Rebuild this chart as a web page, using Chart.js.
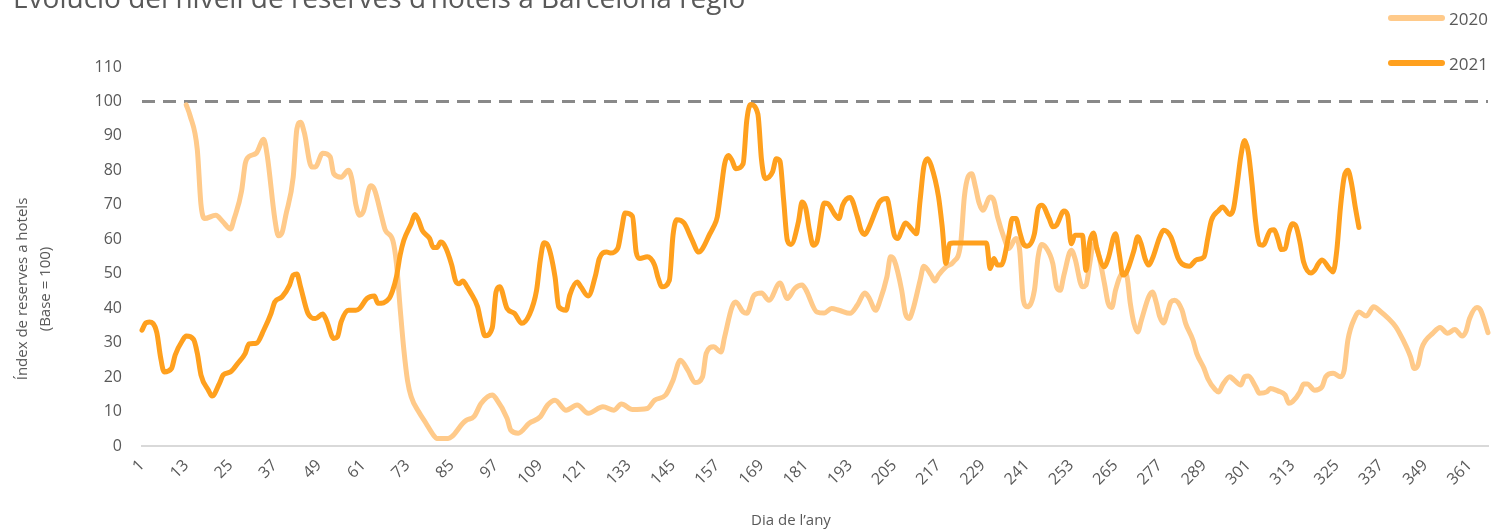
<!DOCTYPE html>
<html>
<head>
<meta charset="utf-8">
<title>Evolució del nivell de reserves d’hotels a Barcelona regió</title>
<script src="https://cdn.jsdelivr.net/npm/chart.js@4"></script>
<style>
  body { margin: 0; background: #fff; }
  #wrap { position: relative; width: 1498px; height: 530px; overflow: hidden;
          font-family: 'Open Sans', sans-serif; color: #595959; }
  #chart { position: absolute; left: 0; top: 0; }
  #title { position: absolute; left: 13px; top: -20px; font-size: 28px; line-height: 34px; white-space: nowrap; }
  #ytitle { position: absolute; left: -117px; top: 266px; width: 300px; text-align: center;
            font-size: 15px; line-height: 23px; transform: rotate(-90deg); }
  #xtitle { position: absolute; left: 691px; top: 509px; width: 200px; text-align: center;
            font-size: 15px; line-height: 20px; }
  .legend-item { position: absolute; left: 1388px; height: 24px; display: flex; align-items: center; }
  .legend-item span.swatch { display: inline-block; width: 57px; height: 6px; border-radius: 3px; margin-right: 4px; }
  .legend-item span.text { font-size: 17px; }
</style>
</head>
<body>
<div id="wrap">
  <canvas id="chart" width="1498" height="530"></canvas>
  <div id="title">Evolució del nivell de reserves d’hotels a Barcelona regió</div>
  <div id="ytitle">Índex de reserves a hotels<br>(Base = 100)</div>
  <div id="xtitle">Dia de l’any</div>
  <div id="legend"></div>
</div>
<script>
// Day-of-year labels shown on the x axis
const tickDays = [1, 13, 25, 37, 49, 61, 73, 85, 97, 109, 121, 133, 145, 157, 169, 181,
  193, 205, 217, 229, 241, 253, 265, 277, 289, 301, 313, 325, 337, 349, 361];
const lastDay = 366;
const baseLevel = 100;

const seriesLabels = ['2020', '2021'];

// 2020 index (day of year / value)
const days2020 = [13, 14, 16, 17, 18, 21, 23, 25, 26, 28, 29, 30, 32, 34, 35, 37, 38, 39, 40, 42,
  43, 44, 45, 47, 48, 50, 52, 53, 55, 57, 58, 59, 60, 61, 63, 64, 66, 67, 69, 70,
  71, 72, 73, 74, 76, 78, 80, 81, 84, 85, 88, 89, 91, 93, 96, 97, 100, 101, 103, 106,
  109, 111, 113, 116, 119, 122, 126, 129, 131, 134, 138, 140, 143, 145, 147, 149, 151, 153, 154, 156,
  158, 159, 161, 162, 164, 165, 167, 169, 171, 174, 176, 178, 180, 181, 184, 186, 188, 190, 193, 195,
  197, 198, 200, 201, 203, 204, 205, 207, 208, 209, 210, 212, 213, 215, 216, 217, 219, 221, 223, 224,
  225, 226, 227, 228, 229, 231, 232, 233, 235, 236, 238, 239, 240, 241, 243, 244, 245, 246, 248, 249,
  250, 251, 253, 254, 256, 257, 258, 259, 260, 262, 263, 264, 265, 267, 268, 269, 270, 271, 272, 274,
  275, 276, 277, 278, 279, 280, 281, 283, 284, 286, 287, 289, 290, 292, 293, 294, 296, 297, 299, 300,
  301, 303, 304, 306, 307, 309, 311, 312, 313, 315, 316, 317, 319, 321, 322, 324, 326, 327, 328, 330,
  331, 333, 335, 337, 339, 341, 343, 345, 346, 347, 348, 349, 351, 353, 355, 357, 359, 360, 361, 363,
  364, 366];
const index2020 = [99, 96, 86, 70, 66, 67, 65, 63, 66, 74, 82, 84, 85, 89, 84, 66, 61, 62, 67, 78,
  92, 94, 91, 81, 81, 85, 84, 79, 78, 80, 77, 70, 67, 68, 75.5, 74.5, 66.5, 62.6, 59.7, 53,
  40, 28, 19, 14.3, 10, 6.6, 3.2, 2.2, 2.2, 2.7, 6.6, 7.5, 8.5, 12.4, 14.8, 13.8, 8, 4.6, 3.7, 6.6,
  8.5, 11.9, 13.3, 10.4, 11.9, 9.5, 11.4, 10.4, 12.2, 10.6, 10.9, 13.3, 14.8, 19.1, 24.9, 22, 18.4, 20.1, 26.9, 28.8,
  27.3, 31.7, 40.4, 41.8, 38.9, 38.5, 43.8, 44.4, 42.3, 47.3, 42.8, 45.7, 46.7, 45.4, 38.9, 38.6, 39.9, 39.4, 38.5, 40.9,
  44.4, 43.3, 39.4, 41.8, 49.1, 54.9, 53.9, 45.2, 38.5, 37, 39.4, 48.1, 52.2, 49.6, 47.9, 49.6, 52, 53.4, 58.7, 72.3,
  78.1, 79, 75.2, 70.5, 68.4, 72.3, 71.3, 66.5, 59.7, 57.3, 60.2, 56.8, 42.3, 40.4, 45.2, 54.9, 58.5, 57.8, 52.9, 46.2,
  45.2, 49.6, 56.8, 54.4, 46.2, 46.7, 52.9, 58.5, 57.3, 47.1, 41.4, 40.2, 45.2, 50.2, 49.6, 41.4, 35.6, 33.1, 36.5, 43.3,
  44.7, 41.8, 37.5, 35.7, 38.5, 41.8, 42.3, 39.5, 35.6, 30.7, 26.9, 22.5, 19.6, 16.4, 15.7, 17.7, 20.1, 19.3, 17.7, 20.1,
  20.3, 17.2, 15.3, 15.7, 16.7, 16, 14.8, 12.4, 12.9, 15.7, 18, 18, 16.2, 17.2, 20.1, 21.1, 20.1, 22, 30.7, 37.5,
  38.9, 37.7, 40.4, 38.9, 37, 34.6, 30.7, 25.9, 22.5, 23.5, 28.3, 30.5, 32.7, 34.4, 32.7, 33.8, 31.9, 33.2, 37, 40.2,
  39.4, 32.9];

// 2021 index (day of year / value)
const days2021 = [1, 2, 3, 5, 6, 7, 9, 10, 12, 13, 15, 16, 17, 19, 20, 22, 23, 25, 27, 29,
  30, 32, 34, 36, 37, 39, 41, 42, 43, 44, 46, 48, 50, 51, 53, 54, 55, 57, 59, 60,
  62, 64, 65, 68, 69, 70, 71, 72, 74, 75, 76, 77, 79, 80, 81, 82, 83, 85, 86, 87,
  88, 89, 90, 92, 93, 94, 96, 97, 98, 100, 102, 104, 106, 108, 109, 110, 111, 113, 114, 116,
  117, 119, 120, 122, 124, 125, 127, 128, 130, 131, 132, 134, 135, 136, 138, 140, 141, 142, 144, 145,
  146, 148, 150, 152, 153, 155, 156, 157, 158, 159, 160, 161, 162, 164, 165, 166, 168, 169, 170, 172,
  173, 174, 175, 176, 177, 179, 180, 181, 182, 183, 184, 186, 187, 189, 190, 191, 193, 195, 196, 197,
  198, 200, 201, 203, 204, 205, 206, 207, 208, 210, 211, 212, 213, 214, 215, 217, 218, 219, 220, 221,
  230, 231, 232, 233, 234, 236, 237, 238, 239, 240, 241, 243, 244, 245, 247, 248, 249, 251, 252, 253,
  254, 256, 257, 258, 259, 260, 262, 263, 265, 266, 267, 268, 270, 271, 272, 273, 274, 275, 277, 278,
  280, 282, 283, 285, 287, 289, 290, 291, 293, 294, 296, 297, 298, 299, 300, 301, 302, 303, 304, 305,
  307, 308, 309, 310, 311, 312, 313, 314, 315, 316, 318, 319, 320, 321, 323, 324, 325, 326, 327, 328,
  329, 330, 331];
const index2021 = [33.6, 35.7, 36, 33, 26, 21.5, 22.5, 26.4, 30.7, 31.9, 30.9, 26.9, 20.6, 16.2, 14.5, 18.2, 20.6, 21.5, 24, 26.9,
  29.6, 29.8, 33.6, 38.5, 41.8, 43.3, 46.7, 49.6, 49.9, 46.2, 38.5, 37, 38.3, 36.5, 31.2, 31.7, 36, 39.4, 39.4, 39.9,
  42.8, 43.5, 41.4, 42.8, 45.2, 49.1, 55.4, 59.7, 64.5, 67.2, 65.5, 62.6, 60.2, 57.6, 57.6, 59.2, 58.3, 52.5, 48, 47.1,
  47.9, 46.5, 44.7, 40.4, 35.6, 32, 34.4, 44.7, 46.2, 39.9, 38.5, 35.6, 38, 45.2, 53.9, 59, 58.3, 49.1, 40.4, 39.4,
  43.8, 47.6, 46.2, 43.5, 49.6, 54.4, 56.3, 56, 57.3, 62.6, 67.6, 66.7, 56.3, 54.4, 54.9, 52.5, 48.6, 46.2, 48.1, 61.2,
  65.7, 64.7, 60.2, 56.3, 57.3, 61.6, 63.6, 66.5, 74.2, 81.9, 84.3, 82.9, 80.5, 81.9, 94.5, 99.1, 96.4, 83, 77.6, 79.6,
  83.4, 82.7, 71.3, 59.7, 58.5, 65, 70.8, 69, 62.6, 58.3, 59.2, 70.5, 70.3, 67, 66, 69.9, 72.1, 66.5, 62.6, 61.4,
  63.1, 68.4, 70.8, 71.8, 67, 61.2, 60.2, 62.6, 64.7, 62.6, 61.6, 71.3, 81, 83.4, 81.4, 72.3, 63.6, 53, 58.7, 58.9,
  58.9, 51.5, 54.4, 52.5, 52.5, 60.7, 66, 66, 62.1, 58.7, 58, 61.6, 68.9, 69.9, 66, 63.6, 64.1, 68.2, 67, 58.7,
  61.2, 61.2, 51, 59.2, 61.8, 57, 52, 54.4, 61.6, 55.8, 49.6, 50.5, 56.8, 60.7, 58.5, 54.4, 52.5, 54.4, 60.7, 62.6,
  60.7, 54.4, 52.9, 52.2, 54.1, 54.9, 60.2, 65.5, 68.4, 69.4, 67.2, 68.9, 76.1, 84.3, 88.7, 85.3, 76.1, 65, 58.5, 58.3,
  62.6, 62.8, 60.2, 57, 57.3, 62.1, 64.5, 63.6, 59.2, 53.4, 50.2, 51, 52.9, 54, 51.5, 50.5, 56.8, 69.4, 78.1, 80,
  76.1, 69.4, 63.4];

const textColor = '#595959';
const fontFamily = "'Open Sans', sans-serif";
const colors = { '2020': '#ffca8a', '2021': '#ffa01e' };

function toPoints(days, values) {
  return days.map((d, i) => ({ x: d, y: values[i] }));
}

// Build the legend (stacked, top right)
function buildLegend() {
  const legend = document.getElementById('legend');
  seriesLabels.forEach((label, i) => {
    const item = document.createElement('div');
    item.className = 'legend-item';
    item.style.top = (6 + i * 45) + 'px';
    item.innerHTML = '<span class="swatch" style="background:' + colors[label] + '"></span>' +
      '<span class="text">' + label + '</span>';
    legend.appendChild(item);
  });
}

function createChart() {
  const ctx = document.getElementById('chart').getContext('2d');
  new Chart(ctx, {
    type: 'line',
    data: {
      datasets: [
        {
          label: '2021',
          data: toPoints(days2021, index2021),
          borderColor: colors['2021'],
          borderWidth: 5,
          order: 1
        },
        {
          label: '2020',
          data: toPoints(days2020, index2020),
          borderColor: colors['2020'],
          borderWidth: 5,
          order: 2
        },
        {
          label: 'Base',
          data: [{ x: tickDays[0], y: baseLevel }, { x: lastDay, y: baseLevel }],
          borderColor: '#898989',
          borderWidth: 3,
          borderDash: [13, 8],
          borderCapStyle: 'butt',
          cubicInterpolationMode: 'default',
          order: 3
        }
      ]
    },
    options: {
      responsive: false,
      animation: false,
      devicePixelRatio: 1,
      clip: false,
      layout: { padding: { top: 67, right: 10, left: 0, bottom: 0 } },
      elements: {
        point: { radius: 0 },
        line: { borderCapStyle: 'round', borderJoinStyle: 'round', cubicInterpolationMode: 'monotone' }
      },
      plugins: {
        legend: { display: false },
        tooltip: { enabled: false }
      },
      scales: {
        x: {
          type: 'linear',
          min: tickDays[0],
          max: lastDay,
          grid: { display: false, drawTicks: false },
          border: { display: true, color: '#d9d9d9', width: 2 },
          ticks: {
            autoSkip: false,
            minRotation: 45,
            maxRotation: 45,
            padding: 10,
            color: textColor,
            font: { family: fontFamily, size: 16 },
            callback: v => String(v)
          },
          afterBuildTicks: scale => {
            scale.ticks = tickDays.map(v => ({ value: v }));
          },
          afterFit: scale => { scale.height = 84; }
        },
        y: {
          min: 0,
          max: 110,
          grid: { display: false, drawTicks: false },
          border: { display: false },
          ticks: {
            stepSize: 10,
            padding: 20,
            color: textColor,
            font: { family: fontFamily, size: 16 }
          },
          afterFit: scale => { scale.width = 142; }
        }
      }
    }
  });
}

buildLegend();
createChart();
</script>
</body>
</html>
